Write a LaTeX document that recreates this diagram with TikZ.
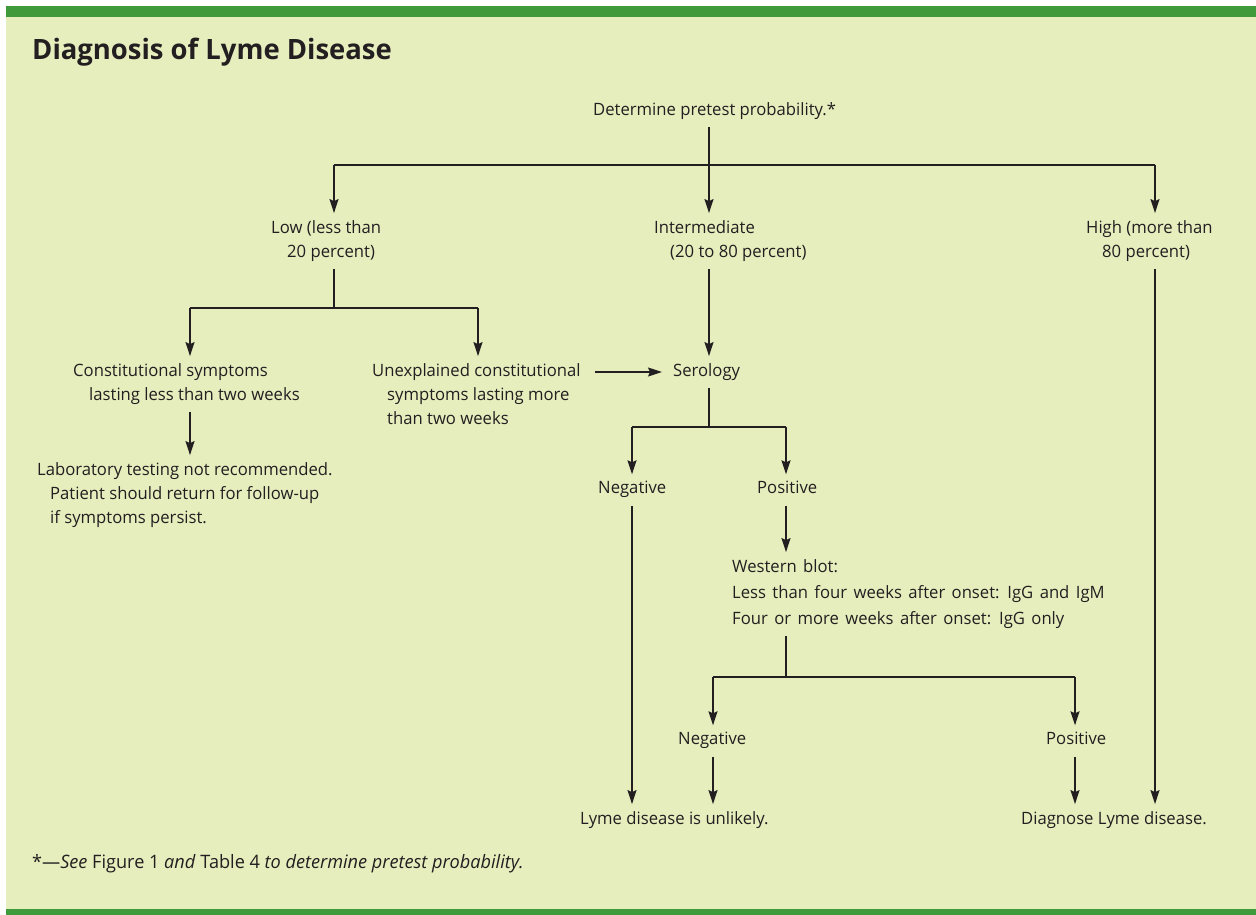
\documentclass[tikz,border=0pt]{standalone}
\usepackage{fontspec}
\setmainfont{Open Sans}[FakeStretch=0.98]
\usetikzlibrary{arrows.meta}
\definecolor{bgc}{HTML}{E6EEBE}
\definecolor{barc}{HTML}{3F9A3B}
\definecolor{inkc}{HTML}{231F20}
\newcommand\wideword{\spaceskip=6.4pt\relax}
\begin{document}
\begin{tikzpicture}[x=1pt,y=-1pt,
  txt/.style={font=\fontsize{17}{24}\selectfont, text=inkc, inner xsep=0pt, inner ysep=7pt, text depth=4.5pt, align=left, anchor=west, yshift=-2pt},
  ln/.style={draw=inkc, line width=1.3pt},
  arr/.style={ln, -{Stealth[length=14pt,width=9pt,inset=2pt]}}]
\useasboundingbox (0,0) rectangle (1256,915);
\fill[white] (0,0) rectangle (1256,915);
\fill[bgc] (6,17) rectangle (1256,910);
\fill[barc] (6,6) rectangle (1256,17);
\fill[barc] (6,909) rectangle (1256,915);

\node[txt, font=\fontsize{28}{30}\bfseries] (title) at (32,49) {Diagnosis of Lyme Disease};

\node[txt] (det) at (593,109) {Determine pretest probability.*};
\node[txt] (low) at (271,239) {Low (less than\\\hspace*{16pt}20 percent)};
\node[txt] (int) at (654,239) {Intermediate\\\hspace*{16pt}(20 to 80 percent)};
\node[txt] (high) at (1086,239) {High (more than\\\hspace*{16pt}80 percent)};
\node[txt] (con) at (73,382) {Constitutional symptoms\\\hspace*{16pt}lasting less than two weeks};
\node[txt] (unex) at (372,394) {Unexplained constitutional\\\hspace*{15pt}symptoms lasting more\\\hspace*{15pt}than two weeks};
\node[txt] (ser) at (673,370) {Serology};
\node[txt] (lab) at (37,493) {Laboratory testing not recommended.\\\hspace*{13pt}Patient should return for follow-up\\\hspace*{13pt}if symptoms persist.};
\node[txt] (neg1) at (598,488) {Negative};
\node[txt] (pos1) at (757,488) {Positive};
\node[txt, font=\fontsize{17}{26}\selectfont\wideword] (wb) at (732,592) {Western blot:\\Less than four weeks after onset: IgG and IgM\\Four or more weeks after onset: IgG only};
\node[txt] (neg2) at (678,739) {Negative};
\node[txt] (pos2) at (1046,739) {Positive};
\node[txt] (unl) at (580,818) {Lyme disease is unlikely.};
\node[txt] (diag) at (1021,818) {Diagnose Lyme disease.};
\node[txt, font=\fontsize{18.5}{20}\selectfont] (foot) at (32,862) {*---\textit{See} Figure 1 \textit{and} Table 4 \textit{to determine pretest probability.}};

\coordinate (j0) at (709,165);
\coordinate (jL) at (334,165);
\coordinate (jH) at (1155,165);
\coordinate (lowj) at (334,308);
\coordinate (ca) at (190,308);
\coordinate (ua) at (478,308);
\coordinate (sj) at (709,427);
\coordinate (sn) at (632,427);
\coordinate (sp) at (786,427);
\coordinate (wj) at (786,677);
\coordinate (wn) at (713,677);
\coordinate (wp) at (1075,677);

\draw[ln] (det.south -| j0) -- (j0);
\draw[ln] (jL) -- (jH);
\draw[arr] (j0) -- (int.north -| j0);
\draw[arr] (jL) -- (low.north -| jL);
\draw[arr] (jH) -- (high.north -| jH);

\draw[ln] (low.south -| lowj) -- (lowj);
\draw[ln] (ca) -- (ua);
\draw[arr] (ca) -- (con.north -| ca);
\draw[arr] (ua) -- (unex.north -| ua);
\draw[arr] (con.south -| ca) -- (lab.north -| ca);
\draw[arr, shorten <=14pt, shorten >=11pt] (unex.east |- ser) -- (ser.west);

\draw[arr] (int.south -| j0) -- (ser.north -| j0);
\draw[ln] (ser.south -| sj) -- (sj);
\draw[ln] (sn) -- (sp);
\draw[arr] (sn) -- (neg1.north -| sn);
\draw[arr] (sp) -- (pos1.north -| sp);
\draw[arr] (neg1.south -| sn) -- (unl.north -| sn);
\draw[arr] (pos1.south -| sp) -- (wb.north -| sp);

\draw[ln] (wb.south -| wj) -- (wj);
\draw[ln] (wn) -- (wp);
\draw[arr] (wn) -- (neg2.north -| wn);
\draw[arr] (wp) -- (pos2.north -| wp);
\draw[arr] (neg2.south -| wn) -- (unl.north -| wn);
\draw[arr] (pos2.south -| wp) -- (diag.north -| wp);
\draw[arr] (high.south -| jH) -- (diag.north -| jH);
\end{tikzpicture}
\end{document}
